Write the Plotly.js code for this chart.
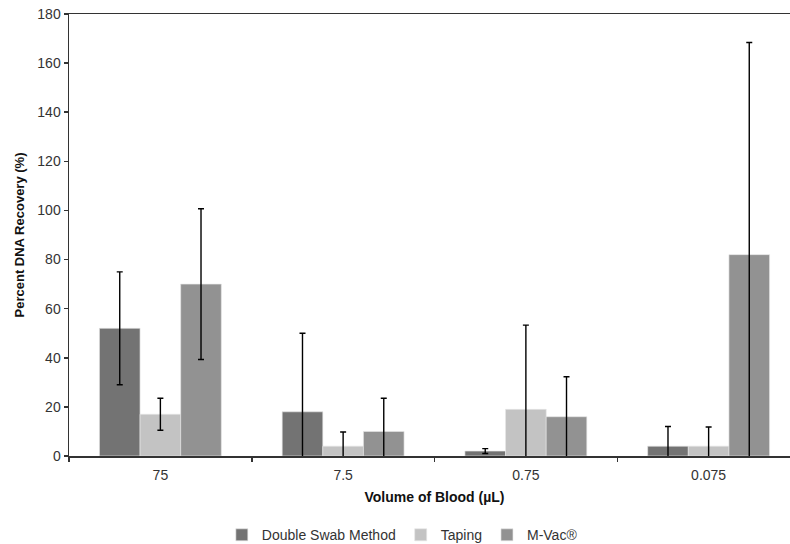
<!DOCTYPE html>
<html>
<head>
<meta charset="utf-8">
<script src="https://cdn.plot.ly/plotly-3.0.1.min.js"></script>
<style>
html,body{margin:0;padding:0;overflow:hidden;background:#fff;}
#chart{width:800px;height:570px;}
</style>
</head>
<body>
<div id="chart"></div>
<script>
// Data
var categories = ["75", "7.5", "0.75", "0.075"];
var seriesNames = ["Double Swab Method", "Taping", "M-Vac®"];
var doubleSwab = [52, 18, 2, 4];
var doubleSwabErr = [23, 32, 1, 8];
var taping = [17, 4, 19, 4];
var tapingErr = [6.5, 5.8, 34.3, 7.8];
var mvac = [70, 10, 16, 82];
var mvacErr = [30.7, 13.5, 16.3, 86.4];
var yTicks = [0, 20, 40, 60, 80, 100, 120, 140, 160, 180];

var colors = ["#737373", "#c3c3c3", "#929292"];
var values = [doubleSwab, taping, mvac];
var errs = [doubleSwabErr, tapingErr, mvacErr];

var FONT = "Liberation Sans, Arial, sans-serif";

var traces = values.map(function (v, i) {
  return {
    type: "bar",
    name: seriesNames[i],
    x: categories,
    y: v,
    marker: { color: colors[i], line: { color: "rgba(230,230,230,0.8)", width: 0.8 } },
    error_y: { type: "data", array: errs[i], symmetric: true, color: "#000", thickness: 1.4, width: 3 }
  };
});

var layout = {
  width: 800,
  height: 570,
  margin: { l: 69, r: 0, t: 14, b: 114 },
  paper_bgcolor: "#fff",
  plot_bgcolor: "#fff",
  font: { family: FONT, size: 14, color: "#333" },
  barmode: "group",
  bargap: 0.333,
  bargroupgap: 0,
  showlegend: true,
  legend: {
    orientation: "h",
    x: 0.456, xanchor: "center",
    y: -0.143, yanchor: "top",
    font: { family: FONT, size: 14, color: "#333" },
    itemwidth: 30,
    traceorder: "normal"
  },
  xaxis: {
    type: "category",
    range: [-0.5, 3.5],
    showline: true, linecolor: "#333", linewidth: 1.5,
    mirror: true,
    ticks: "outside", ticklen: 4, tickcolor: "#333", tickwidth: 1.5,
    tickson: "boundaries",
    ticklabelstandoff: 6,
    showgrid: false,
    tickfont: { family: FONT, size: 14, color: "#333" },
    title: { text: "<b>Volume of Blood (µL)</b>", font: { family: FONT, size: 14, color: "#111" }, standoff: 10 }
  },
  yaxis: {
    range: [0, 180],
    tickvals: yTicks,
    ticktext: yTicks.map(String),
    showline: true, linecolor: "#333", linewidth: 1.5,
    ticks: "outside", ticklen: 4, tickcolor: "#333", tickwidth: 1.5,
    showgrid: false, zeroline: false,
    tickfont: { family: FONT, size: 14, color: "#333" },
    title: { text: "<b>Percent DNA Recovery (%)</b>", font: { family: FONT, size: 13, color: "#111" }, standoff: 10 }
  }
};

Plotly.newPlot("chart", traces, layout, { staticPlot: true, displayModeBar: false });
</script>
</body>
</html>
